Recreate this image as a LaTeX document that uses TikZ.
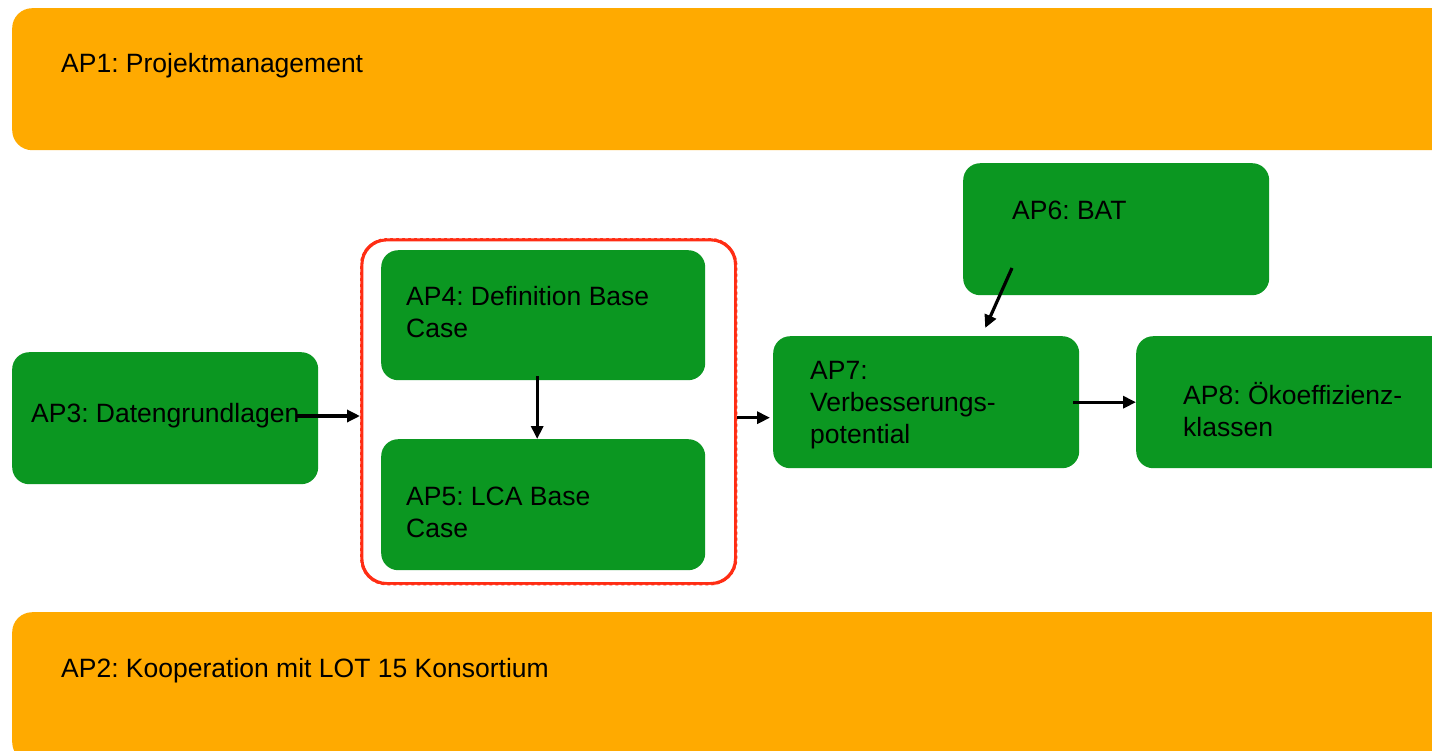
\documentclass[tikz,border=0pt]{standalone}
\usepackage{fontspec}
\setmainfont{Liberation Sans}
\usetikzlibrary{arrows.meta,positioning}
\definecolor{apOrange}{RGB}{255,170,0}
\definecolor{apGreen}{RGB}{11,151,33}
\definecolor{apRed}{RGB}{255,45,20}
\frenchspacing

\tikzset{
  bar/.style={fill=apOrange, rounded corners=20pt, anchor=north west,
              inner sep=0pt, minimum width=1460pt},
  apbox/.style={fill=apGreen, rounded corners=17pt, anchor=north west,
                inner sep=0pt, minimum width=306pt, minimum height=132pt},
  aptext/.style={anchor=west, align=left, inner sep=0pt,
                 font=\fontsize{26.5}{32}\selectfont},
  arr/.style={-{Triangle[length=13pt,width=12pt]}, line width=3.2pt},
}

\begin{document}
\begin{tikzpicture}[x=1pt,y=-1pt]
  \clip (0,0) rectangle (1432,750);
  \fill[white] (0,0) rectangle (1432,750);

  % bars
  \node[bar, minimum height=142pt] (ap1) at (12,8) {};
  \node[aptext] (t1) at (61,66) {AP1: Projektmanagement};
  \node[bar, minimum height=150pt] (ap2) at (12,612) {};
  \node[aptext] (t2) at (61,671) {AP2: Kooperation mit LOT 15 Konsortium};

  % work packages
  \node[apbox] (ap3) at (12,352) {};
  \node[aptext] (t3) at (31,416) {AP3: Datengrundlagen};

  \node[draw=apRed, line width=3.4pt, rounded corners=25pt, anchor=north west,
        inner sep=0pt, minimum width=374pt, minimum height=344pt] (frame) at (360,238) {};
  \draw[white, line width=0.9pt, dash pattern=on 3pt off 3pt, rounded corners=25pt]
    (frame.north west) rectangle (frame.south east);

  \node[apbox, minimum width=324pt, minimum height=130pt] (ap4) at (381,250) {};
  \node[aptext] (t4) at (406,312) {AP4: Definition Base\\Case};
  \node[apbox, minimum width=324pt, minimum height=131pt] (ap5) at (381,439) {};
  \node[aptext] (t5) at (406,512) {AP5: LCA Base\\Case};

  \node[apbox] (ap6) at (963,163) {};
  \node[aptext] (t6) at (1012,210) {AP6: BAT};

  \node[apbox] (ap7) at (773,336) {};
  \node[aptext] (t7) at (810,405) {AP7:\\Verbesserungs-\\potential};

  \node[apbox, minimum width=320pt] (ap8) at (1136,336) {};
  \node[aptext] (t8) at (1183,410) {AP8: Ökoeffizienz-\\klassen};

  % connectors
  \draw[arr] ([xshift=-4pt]t3.east) -- (t3.east -| frame.west);
  \draw[arr] ([xshift=-6pt,yshift=4pt]ap4.south) -- ([xshift=-6pt]ap5.north);
  \draw[arr] ([yshift=-6pt]frame.east) -- ([xshift=-3pt,yshift=-6pt]frame.east -| ap7.west);
  \draw[arr] ([yshift=-58pt]t6.west) -- ([xshift=59pt,yshift=8pt]ap7.north);
  \draw[arr] ([xshift=-6pt]ap7.east) -- (ap8.west);
\end{tikzpicture}
\end{document}
